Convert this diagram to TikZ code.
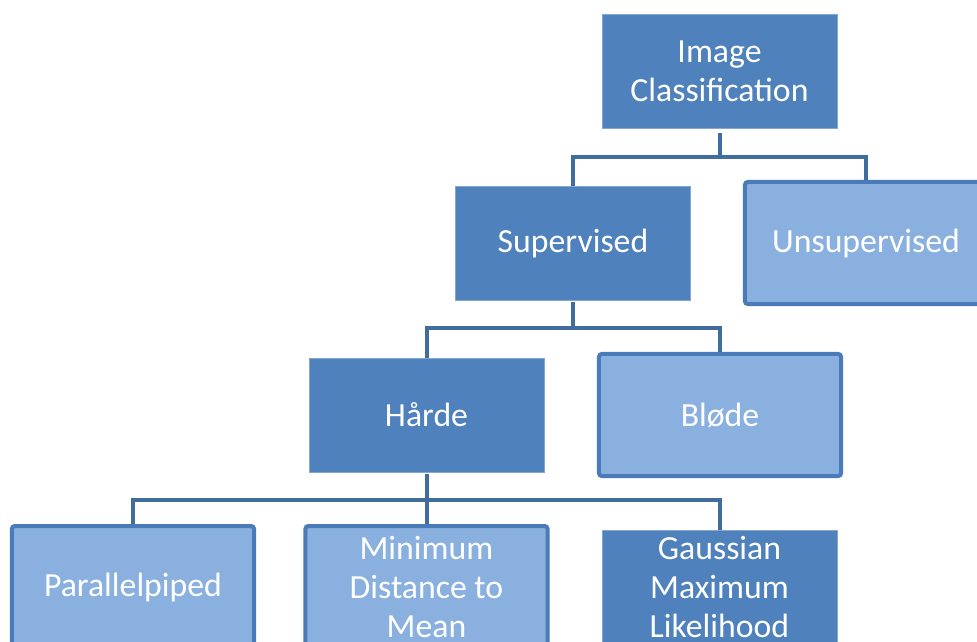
\documentclass[tikz,border=0pt]{standalone}
\usepackage{fontspec}
\setmainfont{Carlito}
\usepackage{xcolor}
\usetikzlibrary{positioning}
\definecolor{solidblue}{RGB}{79,129,189}
\definecolor{softblue}{RGB}{138,176,224}
\definecolor{edgeblue}{RGB}{74,123,184}
\definecolor{linkblue}{RGB}{64,108,158}

\begin{document}
\begin{tikzpicture}[x=0.025cm,y=-0.025cm,
    font=\fontsize{24}{27.6}\selectfont,
    solidbox/.style={draw=solidblue!70!white,line width=0.5pt,fill=solidblue,text=white,align=center,minimum width=5.875cm,minimum height=2.85cm,inner sep=0pt},
    softbox/.style={draw=edgeblue,line width=0.1cm,fill=softblue,rounded corners=2pt,text=white,align=center,minimum width=6.05cm,minimum height=3.05cm,inner sep=0pt},
    link/.style={draw=linkblue,line width=0.1cm}]
    \clip (0,0) rectangle (977,641);
    % Boxes
    \node[solidbox] at (719.5,71) (img) {Image\\Classification};
    \node[solidbox] at (573,243) (sup) {Supervised};
    \node[softbox] at (866,243) (unsup) {Unsupervised};
    \node[solidbox] at (426.5,415) (hard) {Hårde};
    \node[softbox] at (720,415) (soft) {Bløde};
    \node[softbox] at (133,587) (par) {Parallelpiped};
    \node[softbox] at (426.5,587) (mdm) {Minimum\\Distance to\\Mean};
    \node[solidbox] at (719.5,587) (gml) {Gaussian\\Maximum\\Likelihood};
    
    % Junctions
    \coordinate (j1) at (719.5,157);
    \coordinate (j2) at (573,328);
    \coordinate (j3) at (426.5,500);
    
    % Connectors
    \draw[link] ([yshift=-0.12cm]img.south) -- (j1);
    \draw[link] (sup.north) |- (j1) -| (unsup.north);
    \draw[link] ([yshift=-0.05cm]sup.south) -- (j2);
    \draw[link] (hard.north) |- (j2) -| (soft.north);
    \draw[link] ([yshift=-0.05cm]hard.south) -- (j3);
    \draw[link] (par.north) |- (j3) -| (gml.north);
    \draw[link] (j3) -- (mdm.north);
\end{tikzpicture}
\end{document}
